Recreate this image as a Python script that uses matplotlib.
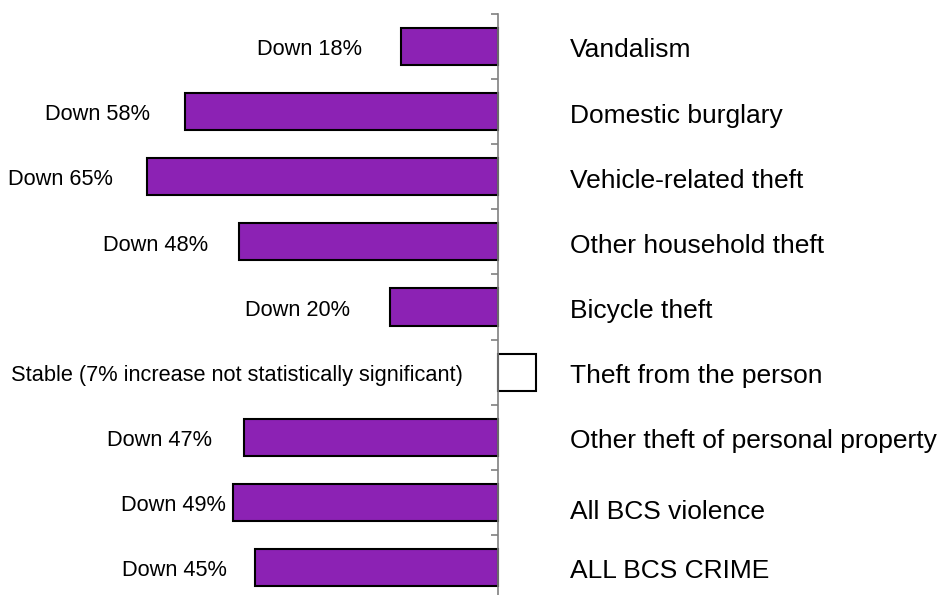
import matplotlib.pyplot as plt
import numpy as np

plt.rcParams['font.family'] = ['Liberation Sans', 'DejaVu Sans']

categories = ['Vandalism', 'Domestic burglary', 'Vehicle-related theft',
              'Other household theft', 'Bicycle theft', 'Theft from the person',
              'Other theft of personal property', 'All BCS violence', 'ALL BCS CRIME']
changes = [-18, -58, -65, -48, -20, 7, -47, -49, -45]
labels = ['Down 18%', 'Down 58%', 'Down 65%', 'Down 48%', 'Down 20%',
          'Stable (7% increase not statistically significant)',
          'Down 47%', 'Down 49%', 'Down 45%']
significant = [True, True, True, True, True, False, True, True, True]

# gap between each left label and its bar (hand placed in the original)
label_gap = [7.2, 6.5, 6.3, 5.7, 7.4, 6.5, 5.9, 1.3, 5.2]
name_shift = [0.06, 0.06, 0.06, 0.06, 0.06, 0.06, 0.06, 0.15, 0.06]

purple = '#8c22b4'

fig = plt.figure(figsize=(9.4, 5.95), dpi=100)
ax = fig.add_axes([0, -0.0084, 1, 0.985])

y = np.arange(len(categories))
colors = [purple if s else 'white' for s in significant]
ax.barh(y, changes, height=0.57, color=colors, edgecolor='black', linewidth=1.5)

ax.set_xlim(-92.2, 81.9)
ax.set_ylim(len(categories) - 0.5, -0.5)

# vertical axis at zero with ticks between the bars
for s in ['top', 'right', 'bottom']:
    ax.spines[s].set_visible(False)
ax.spines['left'].set_position(('data', 0))
ax.spines['left'].set_color('#808080')
ax.spines['left'].set_linewidth(1.2)
ax.set_yticks(np.arange(len(categories) + 1) - 0.5)
ax.tick_params(axis='y', direction='out', length=5, color='#808080',
               width=1.2, labelleft=False)
ax.set_xticks([])

for i, (v, lab) in enumerate(zip(changes, labels)):
    ax.text(min(v, 0) - label_gap[i], i + 0.05, lab, ha='right', va='center',
            fontsize=15.7)
    ax.text(13.3, i + name_shift[i], categories[i], ha='left', va='center',
            fontsize=19)

fig.savefig('out.png', dpi=100)
